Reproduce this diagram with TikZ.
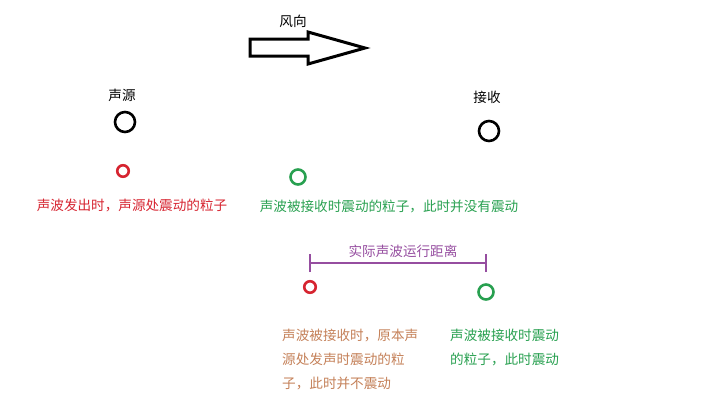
\documentclass[tikz,border=0pt]{standalone}
\usepackage{fontspec}
\newfontfamily\cjk{Noto Sans CJK SC}
\usetikzlibrary{positioning}

\definecolor{srcred}{RGB}{214,36,48}
\definecolor{recvgreen}{RGB}{40,160,80}
\definecolor{distpurple}{RGB}{150,78,160}
\definecolor{notebrown}{RGB}{196,128,88}

\begin{document}
\begin{tikzpicture}[
    x=1pt, y=-1pt,
    % Styles for the labels and particles
    label/.style={inner sep=0pt, font=\cjk\fontsize{13.6}{24}\selectfont},
    note/.style={label, align=left, anchor=north west},
    particle/.style={
        circle,
        draw,
        line width=2.6pt,
        inner sep=0pt
    },
    bigparticle/.style={particle, black, minimum size=20pt}, % Ring for source and receiver
    redparticle/.style={particle, srcred, minimum size=11.5pt},
    greenparticle/.style={particle, recvgreen, minimum size=15pt}
]
\useasboundingbox (0,0) rectangle (720,405);

% Wind direction arrow
\node [label] (wind) at (293,21) {风向};
\draw [line width=3pt, line join=miter]
    (250,39) -- (308,39) -- (308,32) -- (365,48) -- (308,64) -- (308,56) -- (250,56) -- cycle;

% Source and receiver
\node [label] (source) at (122,95) {声源};
\node [bigparticle] (sourcering) at (125,122) {};
\node [label] (receiver) at (487,97) {接收};
\node [bigparticle] (receiverring) at (489,131) {};

% Particles at the moment of emission
\node [redparticle] (emitred) at (123,171) {};
\node [label, srcred] (emittext) at (132,205) {声波发出时，声源处震动的粒子};
\node [greenparticle] (emitgreen) at (298,177) {};
\node [label, recvgreen] (recvtext) at (389,206) {声波被接收时震动的粒子，此时并没有震动};

% Actual travel distance
\coordinate (distL) at (310,263);
\coordinate (distR) at (486,263);
\draw [distpurple, line width=2.6pt] (distL) -- (distR);
\draw [distpurple, line width=2.6pt] ([yshift=-9pt]distL) -- ([yshift=9pt]distL);
\draw [distpurple, line width=2.6pt] ([yshift=-9pt]distR) -- ([yshift=9pt]distR);
\node [label, distpurple] (distlabel) at (403,251) {实际声波运行距离};

% Particles at the moment of reception
\node [redparticle] (recvred) at (310,287) {};
\node [greenparticle] (recvgreen2) at (486,292) {};
\node [note, notebrown] (oldnote) at (282,329) {声波被接收时，原本声\\源处发声时震动的粒\\子，此时并不震动};
\node [note, recvgreen] (newnote) at (450,329) {声波被接收时震动\\的粒子，此时震动};

\end{tikzpicture}
\end{document}
